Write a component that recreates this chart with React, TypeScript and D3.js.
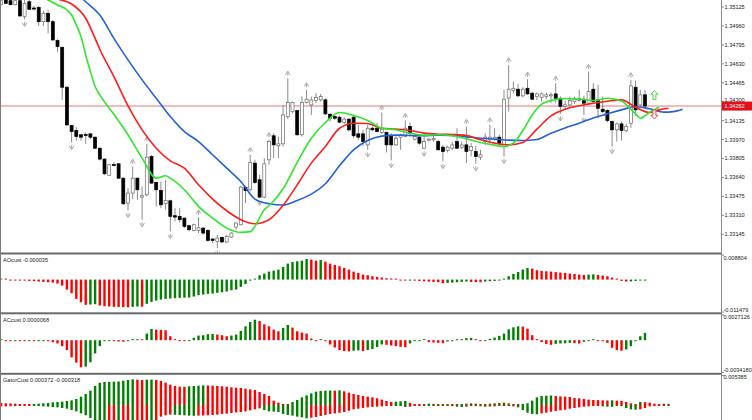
import React from 'react';
import * as d3 from 'd3';

// candles, one per bar (oldest first)
const opens = [
  1.35145, 1.35186, 1.3518, 1.35145, 1.3518, 1.35041, 1.35171, 1.35116, 1.35122, 1.34997,
  1.3507, 1.34997, 1.34832, 1.34774, 1.34426, 1.34092, 1.34049, 1.34012, 1.34014, 1.3402,
  1.33991, 1.33895, 1.338, 1.33658, 1.33753, 1.33759, 1.33634, 1.33417, 1.33504, 1.33634,
  1.33469, 1.33489, 1.33823, 1.33597, 1.33527, 1.33411, 1.33437, 1.33307, 1.33301, 1.33286,
  1.3322, 1.33179, 1.33179, 1.33199, 1.33179, 1.33104, 1.33083, 1.33118, 1.33078, 1.33121,
  1.33208, 1.33228, 1.33553, 1.33533, 1.33765, 1.3362, 1.33469, 1.33794, 1.34003, 1.33916,
  1.33933, 1.34171, 1.34214, 1.34223, 1.34012, 1.34293, 1.34272, 1.3431, 1.34316, 1.34316,
  1.34191, 1.34171, 1.34165, 1.34119, 1.34148, 1.34165, 1.3402, 1.3402, 1.33924, 1.34069,
  1.34069, 1.34032, 1.34032, 1.34003, 1.33924, 1.33991, 1.33997, 1.34084, 1.33974, 1.33991,
  1.33895, 1.33968, 1.33968, 1.33953, 1.33904, 1.33875, 1.33895, 1.33953, 1.33904, 1.33924,
  1.33875, 1.33866, 1.33817, 1.33953, 1.33968, 1.33974, 1.33991, 1.3391, 1.34331, 1.34397,
  1.34409, 1.34351, 1.34417, 1.34374, 1.34345, 1.34339, 1.34345, 1.34351, 1.34368, 1.3433,
  1.34258, 1.34272, 1.34301, 1.3431, 1.34322, 1.34287, 1.34409, 1.34316, 1.34235, 1.34223,
  1.34127, 1.34055, 1.34107, 1.34049, 1.34113, 1.34426, 1.34272, 1.3436,
];
const highs = [
  1.35201, 1.35209, 1.35201, 1.35186, 1.35192, 1.35186, 1.35186, 1.35134, 1.35134, 1.35093,
  1.35099, 1.35012, 1.34844, 1.3478, 1.34438, 1.34098, 1.34078, 1.34017, 1.34032, 1.34026,
  1.33997, 1.33901, 1.33806, 1.33759, 1.33771, 1.33765, 1.3364, 1.33547, 1.33736, 1.3364,
  1.33562, 1.33933, 1.33838, 1.33605, 1.33605, 1.3362, 1.33446, 1.33373, 1.33373, 1.33292,
  1.33228, 1.33237, 1.33295, 1.33208, 1.33191, 1.33112, 1.33141, 1.33127, 1.33141, 1.33162,
  1.33249, 1.33568, 1.33568, 1.33838, 1.33794, 1.33663, 1.33808, 1.33968, 1.34026, 1.33997,
  1.34272, 1.34504, 1.34301, 1.34229, 1.34345, 1.34403, 1.34345, 1.34374, 1.34368, 1.3433,
  1.342, 1.34185, 1.34177, 1.34165, 1.34156, 1.34177, 1.34098, 1.34055, 1.34098, 1.34084,
  1.34113, 1.34206, 1.3404, 1.34026, 1.34003, 1.3402, 1.34136, 1.34119, 1.34026, 1.34003,
  1.3402, 1.33982, 1.3402, 1.33968, 1.33924, 1.33916, 1.33953, 1.34069, 1.33953, 1.34084,
  1.33939, 1.33916, 1.33881, 1.34026, 1.34098, 1.34069, 1.34012, 1.34403, 1.3462, 1.34475,
  1.34455, 1.34426, 1.34496, 1.34388, 1.3438, 1.3438, 1.3438, 1.3438, 1.34461, 1.34345,
  1.3431, 1.34345, 1.34345, 1.34403, 1.34351, 1.34562, 1.34461, 1.34446, 1.34345, 1.34235,
  1.34136, 1.34119, 1.34127, 1.34107, 1.3449, 1.34484, 1.34403, 1.34403,
];
const lows = [
  1.3514, 1.35151, 1.3514, 1.3514, 1.35041, 1.35018, 1.35099, 1.35093, 1.3496, 1.3496,
  1.34896, 1.34832, 1.34736, 1.34316, 1.34089, 1.33945, 1.33962, 1.33962, 1.33933, 1.33974,
  1.33889, 1.33788, 1.33663, 1.33655, 1.33736, 1.33628, 1.33402, 1.33353, 1.33452, 1.33446,
  1.33272, 1.33475, 1.33585, 1.33388, 1.33373, 1.33359, 1.3317, 1.33257, 1.33249, 1.33199,
  1.3317, 1.3317, 1.33156, 1.33141, 1.33083, 1.33069, 1.33025, 1.33069, 1.33069, 1.33115,
  1.33185, 1.33223, 1.33417, 1.33518, 1.33585, 1.3346, 1.3346, 1.33751, 1.33808, 1.33808,
  1.3391, 1.34148, 1.342, 1.34003, 1.33997, 1.34287, 1.34185, 1.34287, 1.34301, 1.34185,
  1.34127, 1.34142, 1.34113, 1.34107, 1.3404, 1.33982, 1.33968, 1.33916, 1.33881, 1.3404,
  1.34032, 1.3402, 1.33858, 1.33788, 1.33916, 1.33881, 1.33991, 1.33997, 1.33962, 1.33924,
  1.33887, 1.33953, 1.33953, 1.33875, 1.33779, 1.33858, 1.33881, 1.33887, 1.33887, 1.33765,
  1.33823, 1.33759, 1.33794, 1.33924, 1.33953, 1.33962, 1.3391, 1.33823, 1.34214, 1.34374,
  1.34339, 1.34339, 1.34359, 1.34316, 1.34316, 1.34301, 1.34322, 1.34287, 1.34287, 1.34194,
  1.34235, 1.34258, 1.34281, 1.34301, 1.34185, 1.34272, 1.34281, 1.34156, 1.342, 1.34119,
  1.3391, 1.33953, 1.33962, 1.34032, 1.34072, 1.34177, 1.34264, 1.34243,
];
const closes = [
  1.3518, 1.35157, 1.35145, 1.3518, 1.35047, 1.35157, 1.35105, 1.35108, 1.34997, 1.3507,
  1.34997, 1.34838, 1.3478, 1.34426, 1.34098, 1.3404, 1.33997, 1.33991, 1.34009, 1.33991,
  1.33895, 1.338, 1.33672, 1.33751, 1.33751, 1.33634, 1.33411, 1.33504, 1.33634, 1.33533,
  1.33481, 1.33817, 1.33591, 1.33533, 1.33402, 1.3344, 1.33301, 1.33295, 1.33272, 1.33214,
  1.33185, 1.33228, 1.33202, 1.33156, 1.33092, 1.33092, 1.33112, 1.33078, 1.33127, 1.33156,
  1.33243, 1.33556, 1.33527, 1.33771, 1.33597, 1.33469, 1.33759, 1.33953, 1.33924, 1.33933,
  1.34185, 1.34293, 1.34293, 1.34012, 1.34293, 1.34322, 1.34316, 1.34336, 1.34345, 1.34194,
  1.34156, 1.34156, 1.34122, 1.34148, 1.34055, 1.34003, 1.33991, 1.33953, 1.34069, 1.34055,
  1.3404, 1.34061, 1.33924, 1.33924, 1.33982, 1.34012, 1.34069, 1.34026, 1.33997, 1.33939,
  1.33953, 1.33974, 1.3398, 1.33881, 1.33866, 1.33904, 1.33924, 1.33895, 1.33924, 1.33866,
  1.3391, 1.33823, 1.33838, 1.33991, 1.33991, 1.33991, 1.33939, 1.34322, 1.34409, 1.34417,
  1.34351, 1.34409, 1.34368, 1.34322, 1.34368, 1.34368, 1.3436, 1.3436, 1.3433, 1.34258,
  1.34272, 1.3431, 1.34322, 1.3433, 1.34287, 1.34388, 1.34301, 1.34243, 1.34214, 1.34136,
  1.34055, 1.34107, 1.34049, 1.34084, 1.34438, 1.34229, 1.3436, 1.34262,
];

const priceTicks = [
  1.35125, 1.3496, 1.34795, 1.3463, 1.34465, 1.343, 1.34135, 1.3397, 1.33805, 1.3364,
  1.33475, 1.3331, 1.33145,
];
const lastPrice = 1.34262;

// alligator lines, [bar, price] (already shifted forward)
const jawLine: [number, number][] = [
  [15, 1.35288], [18, 1.35171], [21, 1.35055], [24, 1.34852], [27, 1.34664], [30, 1.3449],
  [33, 1.3433], [36, 1.34171], [39, 1.3404], [42, 1.33953], [45, 1.33838], [48, 1.33721],
  [51, 1.33605], [54, 1.33452], [57, 1.33411], [60, 1.334], [63, 1.3344], [66, 1.33495],
  [69, 1.33585], [72, 1.33742], [75, 1.33881], [78, 1.33962], [81, 1.34], [84, 1.34009],
  [87, 1.34006], [90, 1.34003], [93, 1.34009], [96, 1.34006], [99, 1.33994], [102, 1.33982],
  [105, 1.33974], [108, 1.33965], [111, 1.33962], [114, 1.33971], [117, 1.34026], [120, 1.34072],
  [123, 1.34113], [126, 1.34159], [129, 1.34194], [132, 1.34229], [135, 1.34258], [138, 1.34238],
  [141, 1.34209], [143, 1.34214], [145, 1.34235],
];
const teethLine: [number, number][] = [
  [9, 1.35244], [12, 1.35195], [15, 1.35151], [18, 1.35027], [20, 1.34852], [21, 1.34757],
  [24, 1.34519], [27, 1.34264], [30, 1.34055], [33, 1.33895], [36, 1.33785], [39, 1.33721],
  [42, 1.33576], [45, 1.33452], [48, 1.3335], [51, 1.33272], [54, 1.33237], [57, 1.33272],
  [60, 1.33397], [63, 1.33576], [66, 1.33765], [69, 1.3391], [72, 1.34069], [75, 1.34113],
  [78, 1.3411], [81, 1.34069], [84, 1.34061], [87, 1.34049], [90, 1.34026], [93, 1.34017],
  [96, 1.34014], [99, 1.34006], [102, 1.33968], [105, 1.33939], [108, 1.33924], [111, 1.33945],
  [114, 1.34061], [117, 1.34177], [120, 1.34235], [123, 1.34264], [126, 1.34287], [129, 1.34304],
  [132, 1.34316], [135, 1.34252], [138, 1.34206], [140, 1.34229], [142, 1.34243],
];
const lipsLine: [number, number][] = [
  [8, 1.35221], [10, 1.35186], [12, 1.35143], [14, 1.35099], [15, 1.35055], [16, 1.34968],
  [17, 1.34867], [18, 1.34707], [19, 1.34562], [20, 1.34432], [21, 1.3436], [24, 1.3419],
  [27, 1.34012], [30, 1.33808], [33, 1.33634], [35, 1.33655], [36, 1.33634], [39, 1.33533],
  [42, 1.33388], [45, 1.33286], [48, 1.33199], [51, 1.33162], [53, 1.33168], [54, 1.33214],
  [56, 1.33359], [57, 1.33394], [60, 1.33542], [63, 1.33771], [66, 1.33982], [69, 1.34119],
  [72, 1.34206], [75, 1.3418], [78, 1.34136], [81, 1.34069], [84, 1.34055], [87, 1.34026],
  [90, 1.34009], [93, 1.34012], [96, 1.34003], [99, 1.33977], [102, 1.33945], [105, 1.33922],
  [107, 1.3391], [109, 1.33939], [111, 1.34049], [113, 1.34185], [115, 1.34278], [117, 1.3431],
  [120, 1.34328], [123, 1.34322], [126, 1.3431], [129, 1.3433], [132, 1.34307], [134, 1.34235],
  [135, 1.34194], [136, 1.34156], [137, 1.34177], [138, 1.34209], [140, 1.34252],
];

const fractalUp = [28, 31, 42, 53, 57, 61, 65, 81, 86, 99, 104, 108, 112, 118, 125, 134];
const fractalDown = [5, 15, 27, 30, 36, 46, 55, 78, 83, 90, 94, 101, 107, 119, 124, 130];
const buySignal: [number, number] = [139, 1.34358];
const sellSignal: [number, number] = [139, 1.34189];

// oscillators
const aoValues = [
  0.00006, 0, -0.00012, -0.00017, -0.00023, -0.00035, -0.00047, -0.00052, -0.0007, -0.00082,
  -0.00093, -0.00105, -0.0014, -0.0021, -0.0035, -0.00478, -0.00676, -0.00793, -0.00886, -0.00875,
  -0.00863, -0.00909, -0.00933, -0.00944, -0.00956, -0.00962, -0.00968, -0.00974, -0.00956, -0.00944,
  -0.0095, -0.00851, -0.00781, -0.00735, -0.007, -0.00676, -0.00665, -0.00653, -0.00641, -0.00635,
  -0.0063, -0.00595, -0.00548, -0.00525, -0.00501, -0.0049, -0.00466, -0.00443, -0.0042, -0.00373,
  -0.0035, -0.00257, -0.00152, -0.00035, 0.00035, 0.00152, 0.0021, 0.0028, 0.00315, 0.0035,
  0.00443, 0.0056, 0.00618, 0.00641, 0.00665, 0.00723, 0.007, 0.00665, 0.00688, 0.0063,
  0.0056, 0.00513, 0.00466, 0.00408, 0.0035, 0.0028, 0.00233, 0.00175, 0.00152, 0.00117,
  0.00093, 0.0007, 0.00047, 0.00012, 0, -0.00023, -0.00035, -0.00023, -0.00035, -0.00047,
  -0.00058, -0.0007, -0.00082, -0.00093, -0.00128, -0.00117, -0.00105, -0.00093, -0.00082, -0.0007,
  -0.00082, -0.00087, -0.00093, -0.0007, -0.00058, -0.00047, -0.00012, 0.00023, 0.00117, 0.00198,
  0.00268, 0.0035, 0.00408, 0.00385, 0.00326, 0.00303, 0.00292, 0.0028, 0.00262, 0.00245,
  0.00233, 0.0021, 0.00198, 0.00175, 0.00163, 0.00175, 0.00181, 0.00163, 0.0014, 0.00117,
  0.0007, 0.00012, -0.00047, -0.0007, -0.00064, -0.00047, -0.00035, -0.00004,
];
const aoRange = [-0.011479, 0.008804];
const aoCurrent = -0.000035;

const acValues = [
  0, -0.000035, -0.000045, -0.000017, -0.000035, -0.000069, -0.000052, -0.000087, -0.000069, -0.000052,
  -0.000104, -0.000208, -0.000346, -0.000623, -0.001038, -0.001799, -0.002353, -0.002837, -0.002768, -0.002318,
  -0.001384, -0.000623, -0.000104, -0.000069, -0.000104, -0.000138, -0.000156, -0.000069, 0.000069, 0.000104,
  0.000069, 0.000692, 0.001176, 0.001107, 0.001073, 0.001038, 0.000415, 0, -0.000035, -0.000069,
  -0.000035, 0.000242, 0.000484, 0.000519, 0.000623, 0.000657, 0.000588, 0.000519, 0.000415, 0.000484,
  0.000588, 0.000969, 0.001453, 0.001903, 0.002145, 0.002007, 0.001661, 0.001453, 0.001107, 0.000934,
  0.00128, 0.001592, 0.001315, 0.000934, 0.000796, 0.000692, 0.000173, -0.000069, 0, -0.000035,
  -0.00045, -0.000761, -0.001038, -0.001142, -0.001176, -0.001107, -0.001073, -0.001142, -0.001038, -0.000934,
  -0.000727, -0.00045, -0.000484, -0.000554, -0.000623, -0.000692, -0.000727, -0.000346, -0.000035, -0.000017,
  0, -0.000208, -0.000242, -0.000277, -0.000311, -0.000138, -0.000035, 0, 0.000069, 0.000208,
  0.000242, 0, -0.000069, -0.000035, 0.000138, 0.000277, 0.00045, 0.000692, 0.001142, 0.001349,
  0.001453, 0.001419, 0.001211, 0.000519, 0.000069, -0.000208, -0.000415, -0.000484, -0.000381, -0.000346,
  -0.000329, -0.000277, -0.000311, -0.000346, -0.000173, -0.000035, 0, -0.000035, -0.000069, -0.000277,
  -0.000796, -0.001038, -0.001107, -0.000969, -0.000623, -0.000035, 0.000415, 0.000761,
];
const acRange = [-0.003418, 0.0027126];
const acCurrent = 0.0000068;

const gatorUp = [
  0.00036, 0.0003, 0.00027, 0.00024, 0.00018, 0.00017, 0.00015, 0.00018, 0.00024, 0.0003,
  0.00036, 0.00048, 0.00054, 0.0006, 0.00072, 0.00084, 0.00108, 0.0015, 0.00197, 0.00257,
  0.00341, 0.00401, 0.00413, 0.00416, 0.00419, 0.00422, 0.00437, 0.00449, 0.0046, 0.00454,
  0.00449, 0.00454, 0.00457, 0.00449, 0.00431, 0.00401, 0.00365, 0.00341, 0.00329, 0.00326,
  0.00335, 0.00341, 0.00347, 0.00353, 0.0035, 0.00347, 0.00341, 0.00335, 0.00329, 0.00317,
  0.00311, 0.00305, 0.00293, 0.00281, 0.00269, 0.00233, 0.00197, 0.00161, 0.00078, 0.00042,
  0.00018, 0.00012, 0.00054, 0.0009, 0.00138, 0.00173, 0.00209, 0.00239, 0.00251, 0.00257,
  0.0026, 0.00257, 0.00263, 0.00245, 0.00221, 0.00197, 0.00179, 0.00161, 0.0015, 0.00138,
  0.0012, 0.00096, 0.00072, 0.00054, 0.0006, 0.00066, 0.00072, 0.00036, 0.00012, 0.00006,
  0.00012, 0.00024, 0.00021, 0.00018, 0.00015, 0.00012, 0.00009, 0.00006, 0.00012, 0.00024,
  0.0003, 0.00024, 0.00018, 0.00015, 0.00024, 0.0003, 0.00036, 0.00042, 0.0003, 0.00018,
  0.00006, 0.00012, 0.0003, 0.00078, 0.00138, 0.00161, 0.00167, 0.0017, 0.00161, 0.00155,
  0.0015, 0.00144, 0.00126, 0.0012, 0.00108, 0.00096, 0.0009, 0.00087, 0.00084, 0.00081,
  0.00084, 0.00078, 0.00075, 0.00054, 0.0003, 0.00018, 0.00054, 0.00051, 0.00042, 0.00024,
  0.00012, 0.00024, 0.00021,
];
const gatorDown = [
  -0.00025, -0.00024, -0.00023, -0.00018, -0.00017, -0.00016, -0.00012, -0.00013, -0.00018, -0.00024,
  -0.0003, -0.00036, -0.00042, -0.00054, -0.00066, -0.0009, -0.00114, -0.0015, -0.00185, -0.00235,
  -0.0027, -0.003, -0.0031, -0.00305, -0.003, -0.00302, -0.00298, -0.00295, -0.00297, -0.00292,
  -0.00288, -0.00284, -0.00286, -0.00275, -0.00209, -0.00185, -0.00173, -0.00176, -0.00179, -0.00185,
  -0.00191, -0.00194, -0.00191, -0.00188, -0.00185, -0.00179, -0.00173, -0.00161, -0.00155, -0.00144,
  -0.00132, -0.00126, -0.00114, -0.00096, -0.00078, -0.0006, -0.0009, -0.00114, -0.0012, -0.00126,
  -0.00161, -0.00179, -0.00191, -0.00209, -0.00221, -0.00239, -0.00227, -0.00215, -0.00197, -0.00179,
  -0.00161, -0.0015, -0.00138, -0.00126, -0.00102, -0.00078, -0.00066, -0.00054, -0.00042, -0.00033,
  -0.0003, -0.00024, -0.00018, -0.00006, -0.00012, -0.00018, -0.00036, -0.0003, -0.00012, -0.00011,
  -0.00006, -0.00012, -0.00013, -0.00015, -0.00018, -0.00019, -0.00021, -0.0003, -0.00036, -0.0003,
  -0.00018, -0.00019, -0.00024, -0.0003, -0.00027, -0.00024, -0.00018, -0.00012, -0.00015, -0.00024,
  -0.00042, -0.0009, -0.00138, -0.00161, -0.00167, -0.0015, -0.00138, -0.0012, -0.00108, -0.00096,
  -0.00084, -0.00066, -0.00054, -0.00042, -0.0003, -0.00024, -0.00018, -0.00012, -0.00024, -0.0003,
  -0.00033, -0.00018, -0.00021, -0.00054, -0.00078, -0.00084, -0.00078, -0.00054, -0.00024, -0.00018,
  -0.00012, -0.00006, -0.00007,
];
const gatorTop = 0.005385;
const gatorCurrent = [0.000372, -0.000318];

const W = 752;
const H = 420;
const AXIS_X = 721;
const FONT = '"Liberation Sans", Arial, sans-serif';
const GREEN = '#008000';
const RED = '#ff0000';

// green when the bar grew, red when it fell (gator compares sizes)
function barColors(values: number[], bySize: boolean, first: string) {
  let prev = first;
  return values.map((v, i) => {
    if (i === 0) return prev;
    const a = bySize ? Math.abs(v) : v;
    const b = bySize ? Math.abs(values[i - 1]) : values[i - 1];
    if (a > b) prev = GREEN;
    else if (a < b) prev = RED;
    return prev;
  });
}

export default function App() {
  const x = d3.scaleLinear().domain([0, 137]).range([1.1, 645]);
  const y = d3.scaleLinear().domain([1.33145, 1.35125]).range([234.3, 7]);
  const yAO = d3.scaleLinear().domain(aoRange).range([312.3, 254.5]);
  const yAC = d3.scaleLinear().domain(acRange).range([372.8, 314.3]);
  const yG = d3.scaleLinear().domain([0, gatorTop]).range([405, 375]);

  const line = d3
    .line<[number, number]>()
    .x((d) => x(d[0]))
    .y((d) => y(d[1]))
    .curve(d3.curveMonotoneX);

  const histo = (
    values: number[],
    scale: d3.ScaleLinear<number, number>,
    colors: string[],
    key: string,
  ) =>
    values.map((v, i) => {
      const y0 = scale(0);
      const y1 = scale(v);
      let top = Math.min(y0, y1);
      let h = Math.abs(y1 - y0);
      if (h < 1) {
        h = 1;
        top = v >= 0 ? y0 - 1 : y0;
      }
      return <rect key={key + i} x={x(i) - 1.2} y={top} width={2.4} height={h} fill={colors[i]} />;
    });

  const arrowUp = 'M0,-4.5 L3.5,-0.8 L1.5,-0.8 L1.5,4.5 L-1.5,4.5 L-1.5,-0.8 L-3.5,-0.8 Z';
  const arrowDown = 'M0,4.5 L3.5,0.8 L1.5,0.8 L1.5,-4.5 L-1.5,-4.5 L-1.5,0.8 L-3.5,0.8 Z';
  const fUp = 'M-2.3,1.6 L0,-2.2 L2.3,1.6 M0,-1 L0,2.6';
  const fDown = 'M-2.3,-1.6 L0,2.2 L2.3,-1.6 M0,1 L0,-2.6';

  const fmt5 = d3.format('.5f');
  const tagY = y(lastPrice);

  return (
    <svg
      width={W}
      height={H}
      style={{ position: 'absolute', left: 0, top: 0, background: '#fff' }}
      fontFamily={FONT}
    >
      <defs>
        <clipPath id="mainClip">
          <rect x={0} y={0} width={AXIS_X} height={252.5} />
        </clipPath>
        <clipPath id="aoClip">
          <rect x={0} y={254.5} width={AXIS_X} height={57.8} />
        </clipPath>
        <clipPath id="acClip">
          <rect x={0} y={314.3} width={AXIS_X} height={58.5} />
        </clipPath>
        <clipPath id="gClip">
          <rect x={0} y={374.8} width={AXIS_X} height={50} />
        </clipPath>
      </defs>
      <rect x={0} y={0} width={W} height={H} fill="#fff" />

      {/* main pane */}
      <g clipPath="url(#mainClip)">
        <line x1={0} x2={AXIS_X} y1={tagY} y2={tagY} stroke="#f2a5a5" strokeWidth={1.5} />
        {opens.map((o, i) => {
          const c = closes[i];
          const cx = x(i);
          const top = y(Math.max(o, c));
          const bh = Math.max(1, y(Math.min(o, c)) - top);
          return (
            <g key={'c' + i}>
              <line x1={cx} x2={cx} y1={y(highs[i])} y2={y(lows[i])} stroke="#8a8a8a" strokeWidth={1} />
              <rect
                x={cx - 1.5}
                y={top}
                width={3}
                height={bh}
                fill={c < o ? '#000' : '#fff'}
                stroke={c < o ? '#000' : '#6a6a6a'}
                strokeWidth={0.7}
              />
            </g>
          );
        })}
        {fractalUp.map((i) => (
          <path
            key={'fu' + i}
            d={fUp}
            transform={`translate(${x(i)},${y(highs[i]) - 5})`}
            fill="none"
            stroke="#a8a8a8"
            strokeWidth={1}
          />
        ))}
        {fractalDown.map((i) => (
          <path
            key={'fd' + i}
            d={fDown}
            transform={`translate(${x(i)},${y(lows[i]) + 5})`}
            fill="none"
            stroke="#a8a8a8"
            strokeWidth={1}
          />
        ))}
        <path d={line(jawLine) || ''} fill="none" stroke="#2461d9" strokeWidth={1.6} />
        <path d={line(teethLine) || ''} fill="none" stroke="#ff1c1c" strokeWidth={1.6} />
        <path d={line(lipsLine) || ''} fill="none" stroke="#2ee62e" strokeWidth={1.6} />
        <path
          d={arrowUp}
          transform={`translate(${x(buySignal[0])},${y(buySignal[1])})`}
          fill="#fff"
          stroke="#4fd24f"
          strokeWidth={1}
        />
        <path
          d={arrowDown}
          transform={`translate(${x(sellSignal[0])},${y(sellSignal[1])})`}
          fill="#fff"
          stroke="#f04848"
          strokeWidth={1}
        />
      </g>

      {/* oscillator panes */}
      <g clipPath="url(#aoClip)">{histo(aoValues, yAO, barColors(aoValues, false, GREEN), 'ao')}</g>
      <g clipPath="url(#acClip)">{histo(acValues, yAC, barColors(acValues, false, GREEN), 'ac')}</g>
      <g clipPath="url(#gClip)">
        {histo(gatorUp, yG, barColors(gatorUp, true, RED), 'gu')}
        {histo(gatorDown, yG, barColors(gatorDown, true, RED), 'gd')}
      </g>

      {/* pane separators and frame */}
      <rect x={0} y={252.5} width={AXIS_X} height={2} fill="#6b6b6b" />
      <rect x={0} y={312.3} width={AXIS_X} height={2} fill="#6b6b6b" />
      <rect x={0} y={372.8} width={AXIS_X} height={2} fill="#6b6b6b" />
      <line x1={0.5} x2={0.5} y1={0} y2={H} stroke="#7a7a7a" />
      <line x1={AXIS_X + 0.5} x2={AXIS_X + 0.5} y1={0} y2={H} stroke="#8a8a8a" />

      {/* titles */}
      <g fontSize={5.6} fill="#222">
        <text x={3} y={262}>{`AOcust ${aoCurrent.toFixed(6)}`}</text>
        <text x={3} y={322.3}>{`ACcust ${acCurrent.toFixed(7)}`}</text>
        <text x={3} y={381.5}>{`GatorCust ${gatorCurrent[0].toFixed(6)} ${gatorCurrent[1].toFixed(6)}`}</text>
      </g>

      {/* right axis */}
      <g fontSize={5.6} fill="#222">
        {priceTicks.map((p) => {
          // a label right next to the price tag is nudged up so it stays readable
          const ty = Math.abs(y(p) - tagY) < 6 ? Math.min(y(p), tagY - 6.5) : y(p);
          return (
            <g key={'t' + p}>
              <line x1={AXIS_X} x2={AXIS_X + 3} y1={y(p)} y2={y(p)} stroke="#8a8a8a" />
              <text x={AXIS_X + 3.5} y={ty} dy="0.35em">
                {fmt5(p)}
              </text>
            </g>
          );
        })}
        <rect x={AXIS_X + 1} y={tagY - 4.5} width={30} height={9} fill="#e3101a" />
        <text x={AXIS_X + 3.5} y={tagY + 0.3} dy="0.35em" fill="#fff">
          {fmt5(lastPrice)}
        </text>

        <line x1={AXIS_X} x2={AXIS_X + 3} y1={255} y2={255} stroke="#8a8a8a" />
        <text x={AXIS_X + 2.5} y={259.5}>{aoRange[1].toFixed(6)}</text>
        <line x1={AXIS_X} x2={AXIS_X + 3} y1={312} y2={312} stroke="#8a8a8a" />
        <text x={AXIS_X + 2.5} y={311.5}>{aoRange[0].toFixed(6)}</text>
        <line x1={AXIS_X} x2={AXIS_X + 3} y1={315} y2={315} stroke="#8a8a8a" />
        <text x={AXIS_X + 2.5} y={319}>{acRange[1].toFixed(7)}</text>
        <line x1={AXIS_X} x2={AXIS_X + 3} y1={372.5} y2={372.5} stroke="#8a8a8a" />
        <text x={AXIS_X + 2.5} y={371.5}>{acRange[0].toFixed(7)}</text>
        <line x1={AXIS_X} x2={AXIS_X + 3} y1={375.5} y2={375.5} stroke="#8a8a8a" />
        <text x={AXIS_X + 2.5} y={379}>{gatorTop.toFixed(6)}</text>
      </g>
    </svg>
  );
}
